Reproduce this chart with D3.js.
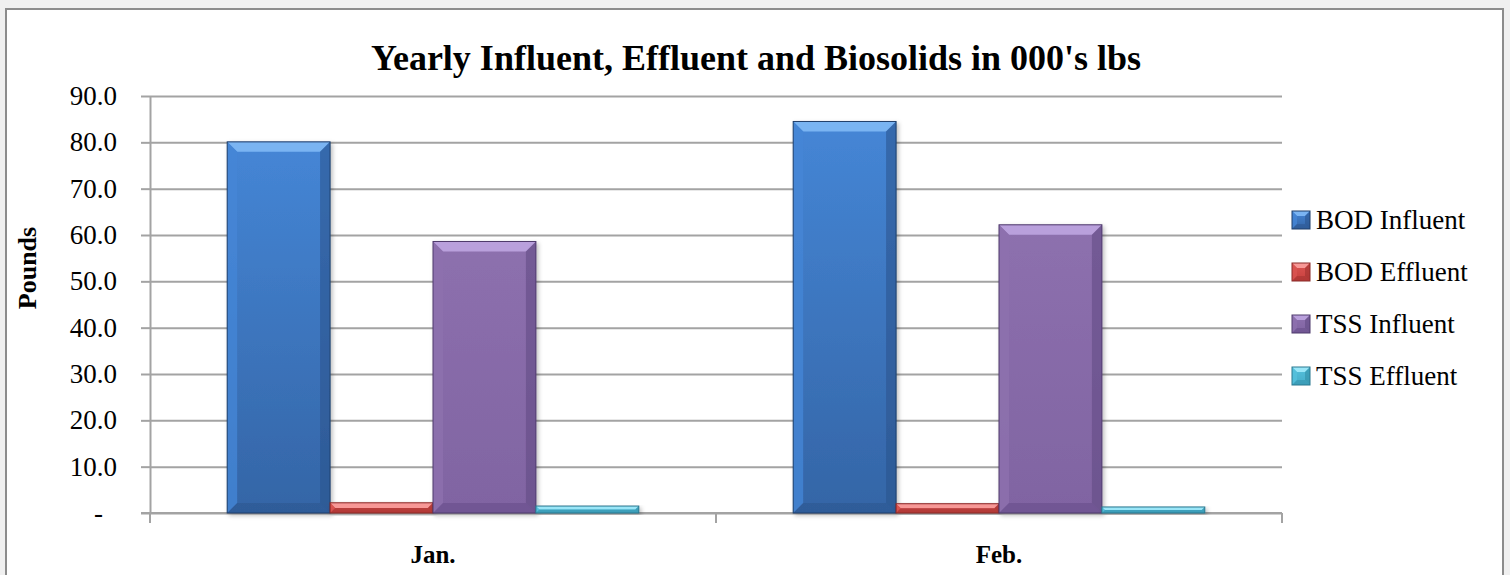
<!doctype html>
<html lang="en">
    <head>
        <meta charset="utf-8">
        <title>Yearly Influent, Effluent and Biosolids</title>
        <script src="https://cdn.jsdelivr.net/npm/d3@7"></script>
        <style>
            body { margin: 0; background: #f0f0f0; }
            svg text { font-family: "Liberation Serif", "Times New Roman", serif; fill: #000; }
            .grid line { stroke: #a3a3a3; stroke-width: 2px; }
            .axis path, .axis line { stroke: #a3a3a3; stroke-width: 2px; }
        </style>
    </head>
    <body>
        <svg width="1510" height="575"></svg>
        <script>
            var categories = ["Jan.", "Feb."];
            var series = ["BOD Influent", "BOD Effluent", "TSS Influent", "TSS Effluent"];
            var bodInfluent = [80.1, 84.5];
            var bodEffluent = [2.2, 2.0];
            var tssInfluent = [58.6, 62.2];
            var tssEffluent = [1.5, 1.3];
            var yTicks = [0, 10, 20, 30, 40, 50, 60, 70, 80, 90];

            var values = [bodInfluent, bodEffluent, tssInfluent, tssEffluent];
            // face top, face bottom, light bevel, dark bevel, outline
            var palette = [
                ["#4586d6", "#3465a6", "#7ab4f2", "#2a528a", "#1f3f6a"],
                ["#da5451", "#c8403e", "#f79896", "#9a2f2d", "#8a2a28"],
                ["#8d70ae", "#8064a2", "#b9a0dc", "#5f4882", "#4e3a6c"],
                ["#55c0dc", "#46adc9", "#9ae6f8", "#2f8aa3", "#2a7890"]
            ];

            var data = [];
            categories.forEach(function(c, i) {
                series.forEach(function(s, j) {
                    data.push({cat: c, s: s, i: j, v: values[j][i]});
                });
            });

            var svg = d3.select("svg");

            svg.append("rect")
                .attr("x", 6).attr("y", 9)
                .attr("width", 1497).attr("height", 580)
                .attr("fill", "#fff")
                .attr("stroke", "#8c8c8c")
                .attr("stroke-width", 2);

            var defs = svg.append("defs");
            defs.append("filter").attr("id", "shadow")
                .attr("x", "-10%").attr("y", "-10%").attr("width", "130%").attr("height", "130%")
                .append("feDropShadow")
                .attr("dx", 2).attr("dy", 2).attr("stdDeviation", 2)
                .attr("flood-color", "#000").attr("flood-opacity", 0.25);
            palette.forEach(function(p, i) {
                var g = defs.append("linearGradient").attr("id", "face" + i)
                    .attr("x1", 0).attr("y1", 0).attr("x2", 0).attr("y2", 1);
                g.append("stop").attr("offset", "0%").attr("stop-color", p[0]);
                g.append("stop").attr("offset", "100%").attr("stop-color", p[1]);
            });

            var plotLeft = 150, plotRight = 1282, plotTop = 96, plotBottom = 513;

            var x0 = d3.scaleBand()
                .domain(categories)
                .range([plotLeft, plotRight]);

            var x1 = d3.scaleBand()
                .domain(series)
                .range([0, x0.bandwidth()])
                .paddingInner(0)
                .paddingOuter(0.75);

            var y = d3.scaleLinear()
                .domain([0, 90])
                .range([plotBottom, plotTop]);

            // horizontal gridlines
            svg.append("g")
                .attr("class", "grid")
                .attr("transform", "translate(" + plotLeft + ",0)")
                .call(d3.axisLeft(y).tickValues(yTicks).tickSize(-(plotRight - plotLeft)).tickFormat(""))
                .call(function(g) { g.select(".domain").remove(); });

            // y axis
            var yAxis = svg.append("g")
                .attr("class", "axis")
                .attr("transform", "translate(" + plotLeft + ",0)")
                .call(d3.axisLeft(y)
                    .tickValues(yTicks)
                    .tickSizeInner(9)
                    .tickSizeOuter(0)
                    .tickPadding(24)
                    .tickFormat(function(d) { return d === 0 ? "-" : d.toFixed(1); }));
            yAxis.attr("font-family", null).attr("font-size", null);
            yAxis.selectAll("text")
                .style("font-size", "27px")
                .attr("dx", function(d) { return d === 0 ? -14 : 0; });

            // x axis
            var xAxis = svg.append("g")
                .attr("class", "axis")
                .attr("transform", "translate(0," + plotBottom + ")");
            xAxis.append("line")
                .attr("x1", plotLeft - 9).attr("x2", plotRight)
                .attr("y1", 0).attr("y2", 0);
            xAxis.selectAll(".sep")
                .data([plotLeft, plotLeft + x0.step(), plotRight])
                .enter().append("line")
                .attr("x1", function(d) { return d; }).attr("x2", function(d) { return d; })
                .attr("y1", 0).attr("y2", 10);
            xAxis.selectAll(".lab")
                .data(categories)
                .enter().append("text")
                .attr("x", function(d) { return x0(d) + x0.bandwidth() / 2; })
                .attr("y", 50)
                .attr("text-anchor", "middle")
                .style("font-size", "25px")
                .style("font-weight", "bold")
                .text(function(d) { return d; });

            function bevelBar(g, bx, by, w, h, i, b) {
                var p = palette[i];
                b = Math.min(b, h / 2, w / 2);
                g.append("rect")
                    .attr("x", bx).attr("y", by).attr("width", w).attr("height", h)
                    .attr("fill", "url(#face" + i + ")");
                g.append("polygon")
                    .attr("points", [[bx, by], [bx + w, by], [bx + w - b, by + b], [bx + b, by + b]].join(" "))
                    .attr("fill", p[2]);
                g.append("polygon")
                    .attr("points", [[bx, by], [bx + b, by + b], [bx + b, by + h - b], [bx, by + h]].join(" "))
                    .attr("fill", p[0]).attr("opacity", 0.8);
                g.append("polygon")
                    .attr("points", [[bx + w, by], [bx + w - b, by + b], [bx + w - b, by + h - b], [bx + w, by + h]].join(" "))
                    .attr("fill", p[3]).attr("opacity", 0.55);
                g.append("polygon")
                    .attr("points", [[bx, by + h], [bx + b, by + h - b], [bx + w - b, by + h - b], [bx + w, by + h]].join(" "))
                    .attr("fill", p[3]).attr("opacity", 0.45);
                g.append("rect")
                    .attr("x", bx).attr("y", by).attr("width", w).attr("height", h)
                    .attr("fill", "none")
                    .attr("stroke", p[4]).attr("stroke-width", 1);
            }

            var bars = svg.append("g").attr("class", "bars");
            data.forEach(function(d) {
                var g = bars.append("g").attr("filter", "url(#shadow)");
                var bx = x0(d.cat) + x1(d.s);
                var by = y(d.v);
                bevelBar(g, bx, by, x1.bandwidth(), plotBottom - by, d.i, 10);
            });

            // legend
            var legend = svg.append("g")
                .selectAll("g")
                .data(series)
                .enter().append("g")
                .attr("transform", function(d, i) { return "translate(1292," + (220 + i * 52) + ")"; });
            legend.each(function(d, i) {
                bevelBar(d3.select(this), 0, -9, 18, 18, i, 5);
            });
            legend.append("text")
                .attr("x", 24)
                .attr("y", 0)
                .attr("dy", "0.35em")
                .style("font-size", "27px")
                .text(function(d) { return d; });

            // title
            svg.append("text")
                .attr("x", 756)
                .attr("y", 70)
                .attr("text-anchor", "middle")
                .style("font-size", "36px")
                .style("font-weight", "bold")
                .text("Yearly Influent, Effluent and Biosolids in 000's lbs");

            svg.append("text")
                .attr("transform", "translate(36,268) rotate(-90)")
                .attr("text-anchor", "middle")
                .style("font-size", "26px")
                .style("font-weight", "bold")
                .text("Pounds");
        </script>
    </body>
</html>
